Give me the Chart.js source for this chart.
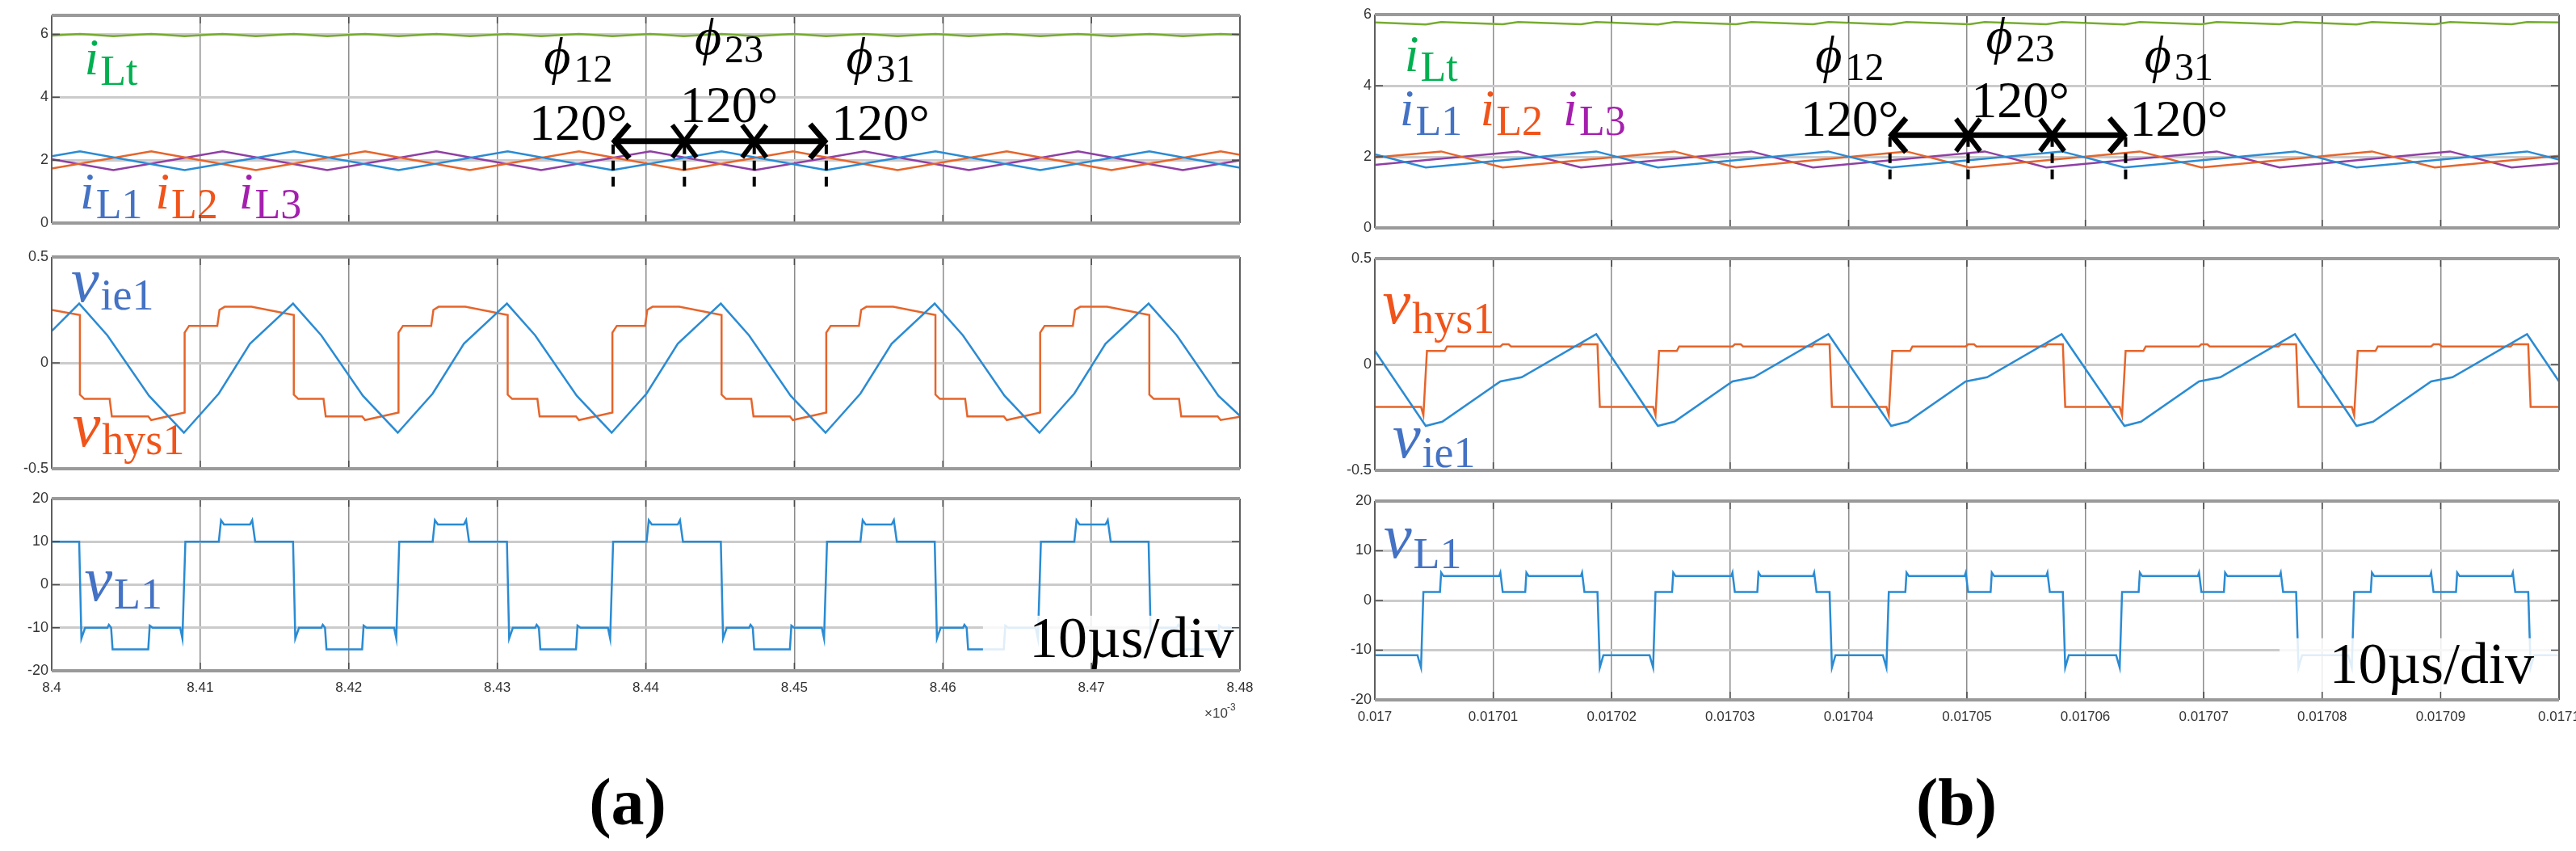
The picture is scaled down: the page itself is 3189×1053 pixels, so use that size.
<!DOCTYPE html>
<html>
<head>
<meta charset="utf-8">
<script src="https://cdn.jsdelivr.net/npm/chart.js@4.4.1/dist/chart.umd.min.js"></script>
<style>
    html, body { margin: 0; padding: 0; background: #fff; }
    body { width: 3189px; height: 1053px; position: relative; overflow: hidden; }
    canvas { position: absolute; }
    .cap { position: absolute; width: 200px; text-align: center; line-height: 1;
           font: bold 82px "Liberation Serif", "DejaVu Serif", serif; color: #000; }
</style>
</head>
<body>
<div class="cap" style="left:677px; top:946px;">(a)</div>
<div class="cap" style="left:2322px; top:946px;">(b)</div>
<script>
// ---------- data (time in µs) ----------

// axis ticks
const xTicksA = [8400, 8410, 8420, 8430, 8440, 8450, 8460, 8470, 8480];
const xLabelsA = ['8.4', '8.41', '8.42', '8.43', '8.44', '8.45', '8.46', '8.47', '8.48'];
const xTicksB = [17000, 17010, 17020, 17030, 17040, 17050, 17060, 17070, 17080, 17090, 17100];
const xLabelsB = ['0.017', '0.01701', '0.01702', '0.01703', '0.01704', '0.01705', '0.01706', '0.01707', '0.01708', '0.01709', '0.0171'];
const yTicksI = [0, 2, 4, 6];
const yLabelsI = ['0', '2', '4', '6'];
const yTicksV = [-0.5, 0, 0.5];
const yLabelsV = ['-0.5', '0', '0.5'];
const yTicksVL = [-20, -10, 0, 10, 20];
const yLabelsVL = ['-20', '-10', '0', '10', '20'];

// (a) inductor currents
const iLtA = [[8400.0, 5.96], [8401.9, 6.01], [8404.15, 5.94], [8406.7, 6.01], [8408.95, 5.94], [8411.5, 6.01],
    [8413.75, 5.94], [8416.3, 6.01], [8418.55, 5.94], [8421.1, 6.01], [8423.35, 5.94], [8425.9, 6.01],
    [8428.15, 5.94], [8430.7, 6.01], [8432.95, 5.94], [8435.5, 6.01], [8437.75, 5.94], [8440.3, 6.01],
    [8442.55, 5.94], [8445.1, 6.01], [8447.35, 5.94], [8449.9, 6.01], [8452.15, 5.94], [8454.7, 6.01],
    [8456.95, 5.94], [8459.5, 6.01], [8461.75, 5.94], [8464.3, 6.01], [8466.55, 5.94], [8469.1, 6.01],
    [8471.35, 5.94], [8473.9, 6.01], [8476.15, 5.94], [8478.7, 6.01], [8480.0, 5.98]];
const iL1A = [[8400.0, 2.125], [8401.9, 2.28], [8408.95, 1.68], [8416.3, 2.28], [8423.35, 1.68], [8430.7, 2.28],
    [8437.75, 1.68], [8445.1, 2.28], [8452.15, 1.68], [8459.5, 2.28], [8466.55, 1.68], [8473.9, 2.28], [8480.0, 1.76]];
const iL2A = [[8400.0, 1.73], [8406.7, 2.28], [8413.75, 1.68], [8421.1, 2.28], [8428.15, 1.68], [8435.5, 2.28],
    [8442.55, 1.68], [8449.9, 2.28], [8456.95, 1.68], [8464.3, 2.28], [8471.35, 1.68], [8478.7, 2.28], [8480.0, 2.17]];
const iL3A = [[8400.0, 2.03], [8404.15, 1.68], [8411.5, 2.28], [8418.55, 1.68], [8425.9, 2.28], [8432.95, 1.68],
    [8440.3, 2.28], [8447.35, 1.68], [8454.7, 2.28], [8461.75, 1.68], [8469.1, 2.28], [8476.15, 1.68], [8480.0, 1.99]];

// (a) integrator error and hysteresis output
const vie1A = [[8400.0, 0.15],
    [8401.85, 0.28], [8403.75, 0.13], [8406.55, -0.155], [8408.90, -0.33], [8411.25, -0.145], [8413.35, 0.09],
    [8416.25, 0.28], [8418.15, 0.13], [8420.95, -0.155], [8423.30, -0.33], [8425.65, -0.145], [8427.75, 0.09],
    [8430.65, 0.28], [8432.55, 0.13], [8435.35, -0.155], [8437.70, -0.33], [8440.05, -0.145], [8442.15, 0.09],
    [8445.05, 0.28], [8446.95, 0.13], [8449.75, -0.155], [8452.10, -0.33], [8454.45, -0.145], [8456.55, 0.09],
    [8459.45, 0.28], [8461.35, 0.13], [8464.15, -0.155], [8466.50, -0.33], [8468.85, -0.145], [8470.95, 0.09],
    [8473.85, 0.28], [8475.75, 0.13], [8478.55, -0.155], [8480.0, -0.25]];
const vhys1A = [[8400.0, 0.25],
    [8401.90, 0.226], [8401.90, -0.15], [8402.20, -0.17], [8403.90, -0.17], [8404.05, -0.253], [8406.50, -0.253], [8406.70, -0.27], [8408.95, -0.235],
    [8408.95, 0.143], [8409.25, 0.175], [8411.15, 0.175], [8411.30, 0.25], [8411.65, 0.265], [8413.45, 0.265], [8416.30, 0.226],
    [8416.30, -0.15], [8416.60, -0.17], [8418.30, -0.17], [8418.45, -0.253], [8420.90, -0.253], [8421.10, -0.27], [8423.35, -0.235],
    [8423.35, 0.143], [8423.65, 0.175], [8425.55, 0.175], [8425.70, 0.25], [8426.05, 0.265], [8427.85, 0.265], [8430.70, 0.226],
    [8430.70, -0.15], [8431.00, -0.17], [8432.70, -0.17], [8432.85, -0.253], [8435.30, -0.253], [8435.50, -0.27], [8437.75, -0.235],
    [8437.75, 0.143], [8438.05, 0.175], [8439.95, 0.175], [8440.10, 0.25], [8440.45, 0.265], [8442.25, 0.265], [8445.10, 0.226],
    [8445.10, -0.15], [8445.40, -0.17], [8447.10, -0.17], [8447.25, -0.253], [8449.70, -0.253], [8449.90, -0.27], [8452.15, -0.235],
    [8452.15, 0.143], [8452.45, 0.175], [8454.35, 0.175], [8454.50, 0.25], [8454.85, 0.265], [8456.65, 0.265], [8459.50, 0.226],
    [8459.50, -0.15], [8459.80, -0.17], [8461.50, -0.17], [8461.65, -0.253], [8464.10, -0.253], [8464.30, -0.27], [8466.55, -0.235],
    [8466.55, 0.143], [8466.85, 0.175], [8468.75, 0.175], [8468.90, 0.25], [8469.25, 0.265], [8471.05, 0.265], [8473.90, 0.226],
    [8473.90, -0.15], [8474.20, -0.17], [8475.90, -0.17], [8476.05, -0.253], [8478.50, -0.253], [8478.70, -0.27], [8480.0, -0.255]];

// (a) inductor voltage
const vL1A = [[8400.0, 10],
    [8401.85, 10], [8402.00, -12.5], [8402.25, -10], [8403.75, -10], [8403.85, -9.3], [8404.00, -10], [8404.10, -15], [8406.50, -15], [8406.60, -9.5], [8406.80, -10], [8408.65, -10], [8408.80, -12.5], [8409.00, 10],
    [8411.25, 10], [8411.40, 15], [8411.60, 14], [8413.35, 14], [8413.50, 15], [8413.70, 10], [8416.25, 10],
    [8416.40, -12.5], [8416.65, -10], [8418.15, -10], [8418.25, -9.3], [8418.40, -10], [8418.50, -15], [8420.90, -15], [8421.00, -9.5], [8421.20, -10], [8423.05, -10], [8423.20, -12.5], [8423.40, 10],
    [8425.65, 10], [8425.80, 15], [8426.00, 14], [8427.75, 14], [8427.90, 15], [8428.10, 10], [8430.65, 10],
    [8430.80, -12.5], [8431.05, -10], [8432.55, -10], [8432.65, -9.3], [8432.80, -10], [8432.90, -15], [8435.30, -15], [8435.40, -9.5], [8435.60, -10], [8437.45, -10], [8437.60, -12.5], [8437.80, 10],
    [8440.05, 10], [8440.20, 15], [8440.40, 14], [8442.15, 14], [8442.30, 15], [8442.50, 10], [8445.05, 10],
    [8445.20, -12.5], [8445.45, -10], [8446.95, -10], [8447.05, -9.3], [8447.20, -10], [8447.30, -15], [8449.70, -15], [8449.80, -9.5], [8450.00, -10], [8451.85, -10], [8452.00, -12.5], [8452.20, 10],
    [8454.45, 10], [8454.60, 15], [8454.80, 14], [8456.55, 14], [8456.70, 15], [8456.90, 10], [8459.45, 10],
    [8459.60, -12.5], [8459.85, -10], [8461.35, -10], [8461.45, -9.3], [8461.60, -10], [8461.70, -15], [8464.10, -15], [8464.20, -9.5], [8464.40, -10], [8466.25, -10], [8466.40, -12.5], [8466.60, 10],
    [8468.85, 10], [8469.00, 15], [8469.20, 14], [8470.95, 14], [8471.10, 15], [8471.30, 10], [8473.85, 10],
    [8474.00, -12.5], [8474.25, -10], [8475.75, -10], [8475.85, -9.3], [8476.00, -10], [8476.10, -15], [8478.50, -15], [8478.60, -9.5], [8478.80, -10], [8480.0, -10]];

// (b) inductor currents
const iLtB = [[17000.0, 5.78], [17004.3, 5.72], [17005.6, 5.79], [17010.8, 5.73], [17012.1, 5.79], [17017.4, 5.73],
    [17018.7, 5.79], [17023.9, 5.72], [17025.3, 5.79], [17030.5, 5.73], [17031.8, 5.79], [17037.0, 5.73],
    [17038.3, 5.79], [17043.6, 5.72], [17044.9, 5.79], [17050.2, 5.73], [17051.5, 5.79], [17056.7, 5.73],
    [17058.0, 5.79], [17063.3, 5.72], [17064.6, 5.79], [17069.8, 5.73], [17071.1, 5.79], [17076.4, 5.73],
    [17077.7, 5.79], [17082.9, 5.72], [17084.2, 5.79], [17089.5, 5.73], [17090.8, 5.79], [17096.0, 5.73],
    [17097.3, 5.79], [17100.0, 5.78]];
const iL1B = [[17000.0, 2.07], [17004.3, 1.70], [17018.7, 2.15], [17023.9, 1.70], [17038.3, 2.15], [17043.6, 1.70],
    [17058.0, 2.15], [17063.3, 1.70], [17077.7, 2.15], [17082.9, 1.70], [17097.3, 2.15], [17100.0, 1.92]];
const iL2B = [[17000.0, 1.98], [17005.6, 2.15], [17010.8, 1.70], [17025.3, 2.15], [17030.5, 1.70], [17044.9, 2.15],
    [17050.2, 1.70], [17064.6, 2.15], [17069.8, 1.70], [17084.2, 2.15], [17089.5, 1.70], [17100.0, 2.03]];
const iL3B = [[17000.0, 1.77], [17012.1, 2.15], [17017.4, 1.70], [17031.8, 2.15], [17037.0, 1.70], [17051.5, 2.15],
    [17056.7, 1.70], [17071.1, 2.15], [17076.4, 1.70], [17090.8, 2.15], [17096.0, 1.70], [17100.0, 1.82]];

// (b) integrator error and hysteresis output
const vie1B = [[17000.0, 0.065],
    [17004.3, -0.29], [17005.7, -0.27], [17010.6, -0.08], [17012.4, -0.06], [17018.7, 0.143],
    [17023.9, -0.29], [17025.3, -0.27], [17030.2, -0.08], [17032.0, -0.06], [17038.3, 0.143],
    [17043.6, -0.29], [17045.0, -0.27], [17049.9, -0.08], [17051.7, -0.06], [17058.0, 0.143],
    [17063.3, -0.29], [17064.7, -0.27], [17069.6, -0.08], [17071.4, -0.06], [17077.7, 0.143],
    [17082.9, -0.29], [17084.3, -0.27], [17089.2, -0.08], [17091.0, -0.06], [17097.3, 0.143],
    [17100.0, -0.08]];
const vhys1B = [[17000.0, -0.2],
    [17003.9, -0.2], [17004.1, -0.24], [17004.4, 0.064], [17005.9, 0.064], [17006.1, 0.085], [17010.6, 0.085], [17010.8, 0.095], [17011.3, 0.095], [17011.5, 0.085], [17017.3, 0.085], [17017.5, 0.095], [17018.8, 0.095], [17019.0, -0.2],
    [17023.5, -0.2], [17023.7, -0.24], [17024.0, 0.064], [17025.5, 0.064], [17025.7, 0.085], [17030.2, 0.085], [17030.4, 0.095], [17030.9, 0.095], [17031.1, 0.085], [17036.9, 0.085], [17037.1, 0.095], [17038.4, 0.095], [17038.6, -0.2],
    [17043.2, -0.2], [17043.4, -0.24], [17043.7, 0.064], [17045.2, 0.064], [17045.4, 0.085], [17049.9, 0.085], [17050.1, 0.095], [17050.6, 0.095], [17050.8, 0.085], [17056.6, 0.085], [17056.8, 0.095], [17058.1, 0.095], [17058.3, -0.2],
    [17062.9, -0.2], [17063.1, -0.24], [17063.4, 0.064], [17064.9, 0.064], [17065.1, 0.085], [17069.6, 0.085], [17069.8, 0.095], [17070.3, 0.095], [17070.5, 0.085], [17076.3, 0.085], [17076.5, 0.095], [17077.8, 0.095], [17078.0, -0.2],
    [17082.5, -0.2], [17082.7, -0.24], [17083.0, 0.064], [17084.5, 0.064], [17084.7, 0.085], [17089.2, 0.085], [17089.4, 0.095], [17089.9, 0.095], [17090.1, 0.085], [17095.9, 0.085], [17096.1, 0.095], [17097.4, 0.095], [17097.6, -0.2],
    [17100.0, -0.2]];

// (b) inductor voltage
const vL1B = [[17000.0, -11],
    [17003.6, -11], [17003.9, -13.5], [17004.1, 1.7], [17005.5, 1.7], [17005.6, 5.6], [17005.8, 4.9], [17010.5, 4.9], [17010.6, 5.6], [17010.8, 1.7], [17012.7, 1.7], [17012.8, 5.6], [17013.0, 4.9], [17017.4, 4.9], [17017.5, 5.6], [17017.7, 1.7], [17018.8, 1.7], [17019.0, -13.5], [17019.3, -11],
    [17023.2, -11], [17023.5, -13.5], [17023.7, 1.7], [17025.1, 1.7], [17025.2, 5.6], [17025.4, 4.9], [17030.1, 4.9], [17030.2, 5.6], [17030.4, 1.7], [17032.3, 1.7], [17032.4, 5.6], [17032.6, 4.9], [17037.0, 4.9], [17037.1, 5.6], [17037.3, 1.7], [17038.4, 1.7], [17038.6, -13.5], [17038.9, -11],
    [17042.9, -11], [17043.2, -13.5], [17043.4, 1.7], [17044.8, 1.7], [17044.9, 5.6], [17045.1, 4.9], [17049.8, 4.9], [17049.9, 5.6], [17050.1, 1.7], [17052.0, 1.7], [17052.1, 5.6], [17052.3, 4.9], [17056.7, 4.9], [17056.8, 5.6], [17057.0, 1.7], [17058.1, 1.7], [17058.3, -13.5], [17058.6, -11],
    [17062.6, -11], [17062.9, -13.5], [17063.1, 1.7], [17064.5, 1.7], [17064.6, 5.6], [17064.8, 4.9], [17069.5, 4.9], [17069.6, 5.6], [17069.8, 1.7], [17071.7, 1.7], [17071.8, 5.6], [17072.0, 4.9], [17076.4, 4.9], [17076.5, 5.6], [17076.7, 1.7], [17077.8, 1.7], [17078.0, -13.5], [17078.3, -11],
    [17082.2, -11], [17082.5, -13.5], [17082.7, 1.7], [17084.1, 1.7], [17084.2, 5.6], [17084.4, 4.9], [17089.1, 4.9], [17089.2, 5.6], [17089.4, 1.7], [17091.3, 1.7], [17091.4, 5.6], [17091.6, 4.9], [17096.0, 4.9], [17096.1, 5.6], [17096.3, 1.7], [17097.4, 1.7], [17097.6, -13.5], [17097.9, -11],
    [17100.0, -11]];

// phase-shift markers (current valleys) and their labels
const phaseMarksA = [8437.8, 8442.6, 8447.3, 8452.15];
const phaseMarksB = [17043.5, 17050.1, 17057.2, 17063.4];
const phaseSubs = ['12', '23', '31'];
const phaseAngle = '120°';

// ---------- styling ----------
const SERIF = '"Liberation Serif", "DejaVu Serif", serif';
const TICK_FONT = '"Liberation Sans", Arial, sans-serif';
const C_BLUE = '#2a8bd3', C_ORANGE = '#e5652b', C_PURPLE = '#8f3fa3', C_GREEN = '#77ac30';
const T_BLUE = '#4472c4', T_ORANGE = '#f0541a', T_GREEN = '#00b050', T_PURPLE = '#a51fae';

function toXY(pairs) {
    return pairs.map(p => ({ x: p[0], y: p[1] }));
}

function px(chart, x, y) {
    return [chart.scales.x.getPixelForValue(x), chart.scales.y.getPixelForValue(y)];
}

// italic symbol with an upright subscript, e.g. i_L1, v_ie1, phi_12
function subLabel(chart, lab) {
    const ctx = chart.ctx;
    let [X, Y] = px(chart, lab.x, lab.y);
    const mainFont = (lab.italic === false ? '' : 'italic ') + lab.size + 'px ' + SERIF;
    const subFont = lab.subSize + 'px ' + SERIF;
    const gap = lab.gap || 2;
    ctx.font = mainFont;
    const w1 = ctx.measureText(lab.main).width;
    ctx.font = subFont;
    const w2 = ctx.measureText(lab.sub).width;
    if (lab.center) X -= (w1 + gap + w2) / 2;
    ctx.fillStyle = lab.color;
    ctx.textAlign = 'left';
    ctx.textBaseline = 'alphabetic';
    ctx.font = mainFont;
    ctx.fillText(lab.main, X, Y);
    ctx.font = subFont;
    ctx.fillText(lab.sub, X + w1 + gap, Y + lab.dy);
}

function line(ctx, x1, y1, x2, y2) {
    ctx.beginPath();
    ctx.moveTo(x1, y1);
    ctx.lineTo(x2, y2);
    ctx.stroke();
}

// double arrow with two crosses, dashed valley markers, 120° and phi labels
function drawPhase(chart, marks, arrowY, dashTop, dashBot, centers, degY, phiY) {
    const ctx = chart.ctx;
    const xs = marks.map(m => chart.scales.x.getPixelForValue(m));
    const yA = chart.scales.y.getPixelForValue(arrowY);
    const yT = chart.scales.y.getPixelForValue(dashTop);
    const yB = chart.scales.y.getPixelForValue(dashBot);
    ctx.strokeStyle = '#000';
    ctx.lineCap = 'butt';
    ctx.lineWidth = 4;
    ctx.setLineDash([12, 8]);
    xs.forEach(x => line(ctx, x, yT, x, yB));
    ctx.setLineDash([]);

    ctx.lineWidth = 7;
    line(ctx, xs[0], yA, xs[3], yA);
    ctx.beginPath();
    ctx.moveTo(xs[0] + 20, yA - 21); ctx.lineTo(xs[0] + 2, yA); ctx.lineTo(xs[0] + 20, yA + 21);
    ctx.moveTo(xs[3] - 20, yA - 21); ctx.lineTo(xs[3] - 2, yA); ctx.lineTo(xs[3] - 20, yA + 21);
    ctx.stroke();
    ctx.lineWidth = 6;
    [xs[1], xs[2]].forEach(x => {
        line(ctx, x - 15, yA - 20, x + 15, yA + 20);
        line(ctx, x + 15, yA - 20, x - 15, yA + 20);
    });

    centers.forEach((c, i) => {
        const [X, Y] = px(chart, c, degY[i]);
        ctx.fillStyle = '#000';
        ctx.textAlign = 'center';
        ctx.textBaseline = 'alphabetic';
        ctx.font = '64px ' + SERIF;
        ctx.fillText(phaseAngle, X, Y);
        subLabel(chart, { main: '\u03D5', sub: phaseSubs[i], x: c, y: phiY[i], color: '#000',
            size: 64, subSize: 48, dy: 10, gap: 4, center: true });
    });
}

function drawTimebase(chart, boxX, boxY, textX, textY) {
    const ctx = chart.ctx;
    const a = chart.chartArea;
    const [bx, by] = px(chart, boxX, boxY);
    ctx.fillStyle = 'rgba(255,255,255,0.85)';
    ctx.fillRect(bx, by, a.right - bx, a.bottom - by);
    const [X, Y] = px(chart, textX, textY);
    ctx.fillStyle = '#000';
    ctx.textAlign = 'left';
    ctx.textBaseline = 'alphabetic';
    ctx.font = '72px ' + SERIF;
    ctx.fillText('10\u00B5s/div', X, Y);
}

// axes box with short inward tick marks, as on the scope plots
function drawFrame(chart, xTicks, yTicks) {
    const ctx = chart.ctx;
    const a = chart.chartArea;
    ctx.strokeStyle = '#4a4a4a';
    ctx.lineWidth = 1.5;
    xTicks.forEach(v => {
        const x = chart.scales.x.getPixelForValue(v);
        line(ctx, x, a.top, x, a.top + 10);
        line(ctx, x, a.bottom, x, a.bottom - 10);
    });
    yTicks.forEach(v => {
        const y = chart.scales.y.getPixelForValue(v);
        line(ctx, a.left, y, a.left + 10, y);
        line(ctx, a.right, y, a.right - 10, y);
    });
    ctx.strokeStyle = '#5e5e5e';
    ctx.lineWidth = 2;
    line(ctx, a.left, a.top, a.left, a.bottom);
    line(ctx, a.right, a.top, a.right, a.bottom);
    ctx.strokeStyle = '#9a9a9a';
    ctx.lineWidth = 4;
    line(ctx, a.left, a.top, a.right, a.top);
    line(ctx, a.left, a.bottom, a.right, a.bottom);
}

// one oscilloscope sub-plot
function buildChart(box, xTicks, xLabels, showX, yMin, yMax, yTicks, yLabels, series, extra) {
    const L = 70, T = 20, R = 45, B = showX ? 75 : 15;
    const canvas = document.createElement('canvas');
    const w = box.w + L + R, h = box.h + T + B;
    canvas.width = w;
    canvas.height = h;
    canvas.style.left = (box.x - L) + 'px';
    canvas.style.top = (box.y - T) + 'px';
    canvas.style.width = w + 'px';
    canvas.style.height = h + 'px';
    document.body.appendChild(canvas);

    return new Chart(canvas.getContext('2d'), {
        type: 'line',
        data: {
            datasets: series.map(s => ({
                data: toXY(s.data),
                borderColor: s.color,
                borderWidth: 2.5,
                pointRadius: 0,
                tension: 0,
                fill: false
            }))
        },
        options: {
            responsive: false,
            animation: false,
            devicePixelRatio: 1,
            layout: { padding: { top: T, right: R, left: 0, bottom: 0 } },
            plugins: { legend: { display: false }, tooltip: { enabled: false } },
            scales: {
                x: {
                    type: 'linear',
                    min: xTicks[0],
                    max: xTicks[xTicks.length - 1],
                    afterBuildTicks: s => { s.ticks = xTicks.map(v => ({ value: v })); },
                    afterFit: s => { s.height = B; },
                    border: { display: false },
                    grid: { color: '#8c8c8c', lineWidth: 1.5, drawTicks: false },
                    ticks: {
                        display: showX,
                        padding: 11,
                        autoSkip: false,
                        maxRotation: 0,
                        color: '#333333',
                        font: { family: TICK_FONT, size: 17 },
                        callback: (v, i) => xLabels[i]
                    }
                },
                y: {
                    min: yMin,
                    max: yMax,
                    afterBuildTicks: s => { s.ticks = yTicks.map(v => ({ value: v })); },
                    afterFit: s => { s.width = L; },
                    border: { display: false },
                    grid: { color: '#cbcbcb', lineWidth: 3, drawTicks: false },
                    ticks: {
                        padding: 4,
                        color: '#333333',
                        font: { family: TICK_FONT, size: 18 },
                        callback: (v, i) => yLabels[i]
                    }
                }
            }
        },
        plugins: [{
            id: 'scopeExtras',
            afterDatasetsDraw(chart) {
                const ctx = chart.ctx;
                ctx.save();
                if (extra) extra(chart);
                drawFrame(chart, xTicks, yTicks);
                ctx.restore();
            }
        }]
    });
}

// ---------- panel (a) ----------
buildChart({ x: 64, y: 19, w: 1471, h: 257 }, xTicksA, xLabelsA, false, 0, 6.6, yTicksI, yLabelsI,
    [{ data: iLtA, color: C_GREEN }, { data: iL1A, color: C_BLUE }, { data: iL2A, color: C_ORANGE }, { data: iL3A, color: C_PURPLE }],
    chart => {
        subLabel(chart, { main: 'i', sub: 'Lt', x: 8402.2, y: 4.72, color: T_GREEN, size: 64, subSize: 52, dy: 13 });
        subLabel(chart, { main: 'i', sub: 'L1', x: 8401.9, y: 0.46, color: T_BLUE, size: 64, subSize: 52, dy: 12 });
        subLabel(chart, { main: 'i', sub: 'L2', x: 8406.97, y: 0.46, color: T_ORANGE, size: 64, subSize: 52, dy: 12 });
        subLabel(chart, { main: 'i', sub: 'L3', x: 8412.6, y: 0.46, color: T_PURPLE, size: 64, subSize: 52, dy: 12 });
        drawPhase(chart, phaseMarksA, 2.60, 2.50, 1.03, [8435.45, 8445.6, 8455.8], [2.65, 3.22, 2.65], [4.74, 5.36, 4.74]);
    });

buildChart({ x: 64, y: 318, w: 1471, h: 262 }, xTicksA, xLabelsA, false, -0.5, 0.5, yTicksV, yLabelsV,
    [{ data: vie1A, color: C_BLUE }, { data: vhys1A, color: C_ORANGE }],
    chart => {
        subLabel(chart, { main: 'v', sub: 'ie1', x: 8401.3, y: 0.29, color: T_BLUE, size: 78, subSize: 54, dy: 10 });
        subLabel(chart, { main: 'v', sub: 'hys1', x: 8401.4, y: -0.393, color: T_ORANGE, size: 78, subSize: 54, dy: 10 });
    });

buildChart({ x: 64, y: 617, w: 1471, h: 213 }, xTicksA, xLabelsA, true, -20, 20, yTicksVL, yLabelsVL,
    [{ data: vL1A, color: C_BLUE }],
    chart => {
        subLabel(chart, { main: 'v', sub: 'L1', x: 8402.2, y: -3.66, color: T_BLUE, size: 78, subSize: 54, dy: 10 });
        drawTimebase(chart, 8462.7, -7.2, 8465.8, -16.8);
        // exponent of the time axis
        const ctx = chart.ctx;
        const a = chart.chartArea;
        ctx.fillStyle = '#404040';
        ctx.textAlign = 'left';
        ctx.textBaseline = 'alphabetic';
        ctx.font = '17px ' + TICK_FONT;
        ctx.fillText('\u00D710', a.right - 44, a.bottom + 58);
        ctx.font = '12px ' + TICK_FONT;
        ctx.fillText('-3', a.right - 16, a.bottom + 49);
    });

// ---------- panel (b) ----------
buildChart({ x: 1702, y: 18, w: 1466, h: 264 }, xTicksB, xLabelsB, false, 0, 6, yTicksI, yLabelsI,
    [{ data: iLtB, color: C_GREEN }, { data: iL1B, color: C_BLUE }, { data: iL2B, color: C_ORANGE }, { data: iL3B, color: C_PURPLE }],
    chart => {
        subLabel(chart, { main: 'i', sub: 'Lt', x: 17002.5, y: 4.41, color: T_GREEN, size: 64, subSize: 52, dy: 12 });
        subLabel(chart, { main: 'i', sub: 'L1', x: 17002.1, y: 2.89, color: T_BLUE, size: 64, subSize: 52, dy: 12 });
        subLabel(chart, { main: 'i', sub: 'L2', x: 17008.9, y: 2.89, color: T_ORANGE, size: 64, subSize: 52, dy: 12 });
        subLabel(chart, { main: 'i', sub: 'L3', x: 17015.9, y: 2.89, color: T_PURPLE, size: 64, subSize: 52, dy: 12 });
        drawPhase(chart, phaseMarksB, 2.61, 2.55, 1.34, [17040.1, 17054.5, 17067.9], [2.59, 3.11, 2.59], [4.39, 4.91, 4.39]);
    });

buildChart({ x: 1702, y: 320, w: 1466, h: 262 }, xTicksB, xLabelsB, false, -0.5, 0.5, yTicksV, yLabelsV,
    [{ data: vie1B, color: C_BLUE }, { data: vhys1B, color: C_ORANGE }],
    chart => {
        subLabel(chart, { main: 'v', sub: 'hys1', x: 17000.65, y: 0.195, color: T_ORANGE, size: 78, subSize: 54, dy: 12 });
        subLabel(chart, { main: 'v', sub: 'ie1', x: 17001.5, y: -0.44, color: T_BLUE, size: 78, subSize: 54, dy: 12 });
    });

buildChart({ x: 1702, y: 620, w: 1466, h: 246 }, xTicksB, xLabelsB, true, -20, 20, yTicksVL, yLabelsVL,
    [{ data: vL1B, color: C_BLUE }],
    chart => {
        subLabel(chart, { main: 'v', sub: 'L1', x: 17000.75, y: 8.6, color: T_BLUE, size: 78, subSize: 54, dy: 13 });
        drawTimebase(chart, 17076.4, -7.6, 17080.6, -16.6);
    });
</script>
</body>
</html>
